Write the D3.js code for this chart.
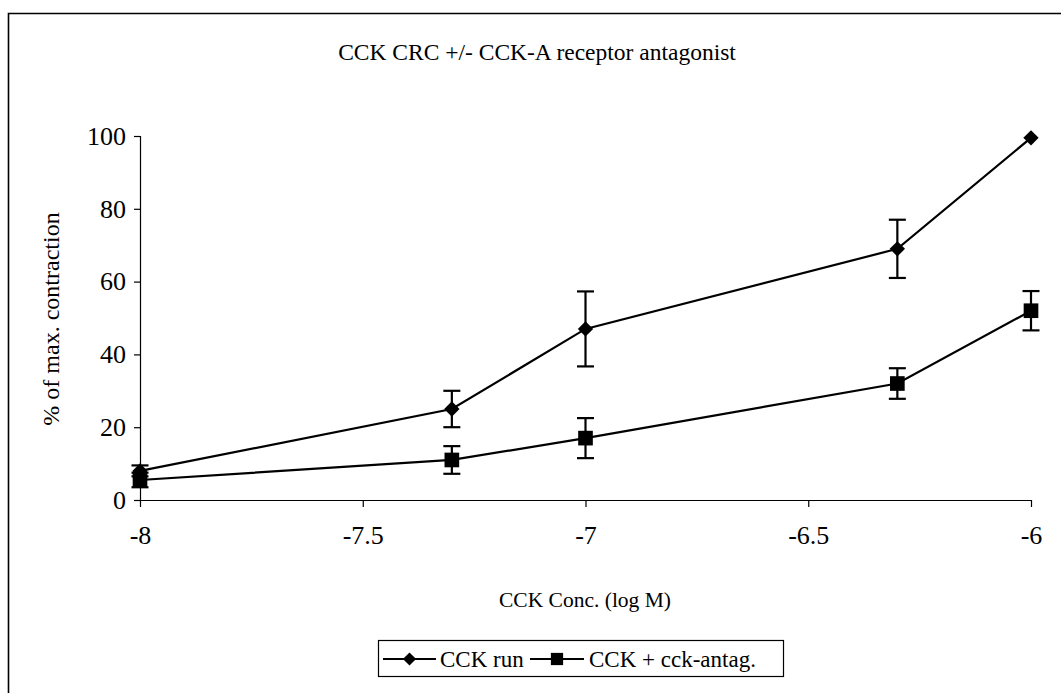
<!DOCTYPE html>
<html>
<head>
<meta charset="utf-8">
<script src="https://cdn.jsdelivr.net/npm/d3@7"></script>
<style>
  html, body { margin: 0; padding: 0; background: #fff; }
  svg { display: block; }
</style>
</head>
<body>
<svg id="chart" width="1061" height="693"></svg>
<script>
// log concentration of CCK (M)
const concentrations = [-8, -7.3, -7, -6.3, -6];
// % of maximal contraction, mean and SEM
const cckRun = [8, 25, 47, 69, 99.5];
const cckRunErr = [1.5, 5, 10.3, 8, 0];
const cckAntag = [5.5, 11, 17, 32, 52];
const cckAntagErr = [2, 3.8, 5.5, 4.2, 5.4];
const seriesNames = ["CCK run", "CCK + cck-antag."];
const xTicks = [-8, -7.5, -7, -6.5, -6];
const yTicks = [0, 20, 40, 60, 80, 100];

const SERIF = "'Liberation Serif', 'Times New Roman', serif";
const svg = d3.select("#chart");
const W = 1061, H = 693;
const plot = { left: 140, right: 1031, top: 136, bottom: 500 };

// outer chart frame (only top and left edges fall inside the page)
svg.append("path")
  .attr("d", `M8.5,${H} V13.5 H${W}`)
  .attr("fill", "none").attr("stroke", "#000").attr("stroke-width", 1.6);

const x = d3.scaleLinear().domain([-8, -6]).range([plot.left, plot.right]);
const y = d3.scaleLinear().domain([0, 100]).range([plot.bottom, plot.top]);

// title
svg.append("text")
  .attr("x", 537).attr("y", 60)
  .attr("text-anchor", "middle")
  .attr("font-family", SERIF)
  .attr("font-size", 23.5)
  .text("CCK CRC +/- CCK-A receptor antagonist");

// y axis
const yAxis = svg.append("g")
  .attr("transform", `translate(${plot.left},0)`)
  .call(d3.axisLeft(y).tickValues(yTicks).tickSize(6).tickPadding(8).tickFormat(d => String(d)));
yAxis.attr("font-family", SERIF).attr("font-size", 26);
yAxis.selectAll("line, path").attr("stroke", "#000").attr("stroke-width", 1.2);

// x axis; labels use a plain hyphen for the minus sign
const xAxis = svg.append("g")
  .attr("transform", `translate(0,${plot.bottom})`)
  .call(d3.axisBottom(x).tickValues(xTicks).tickSize(7).tickPadding(19).tickFormat(d => String(d)));
xAxis.attr("font-family", SERIF).attr("font-size", 26);
xAxis.selectAll("line, path").attr("stroke", "#000").attr("stroke-width", 1.2);
xAxis.select(".domain").attr("d", `M${plot.left},0.5H${plot.right}`);
yAxis.select(".domain").attr("d", `M0.5,${plot.bottom}V${plot.top}`);

// axis titles
svg.append("text")
  .attr("transform", `translate(59,${(plot.top + plot.bottom) / 2 + 1}) rotate(-90)`)
  .attr("text-anchor", "middle")
  .attr("font-family", SERIF)
  .attr("font-size", 24)
  .text("% of max. contraction");

svg.append("text")
  .attr("x", 585).attr("y", 607)
  .attr("text-anchor", "middle")
  .attr("font-family", SERIF)
  .attr("font-size", 21.5)
  .text("CCK Conc. (log M)");

const series = [
  { name: seriesNames[0], values: cckRun, err: cckRunErr, marker: "diamond" },
  { name: seriesNames[1], values: cckAntag, err: cckAntagErr, marker: "square" }
];

const line = d3.line().x(d => x(d.c)).y(d => y(d.v));
const markerPath = {
  diamond: d3.symbol().type(d3.symbolDiamond2).size(150),
  square: d3.symbol().type(d3.symbolSquare).size(215)
};

series.forEach(s => {
  const pts = concentrations.map((c, i) => ({ c, v: s.values[i], e: s.err[i] }));
  const g = svg.append("g");

  // error bars
  const eb = g.selectAll("g.err").data(pts.filter(p => p.e > 0)).join("g").attr("class", "err");
  eb.append("line")
    .attr("x1", d => x(d.c)).attr("x2", d => x(d.c))
    .attr("y1", d => y(d.v + d.e)).attr("y2", d => y(d.v - d.e));
  eb.append("line")
    .attr("x1", d => x(d.c) - 8.5).attr("x2", d => x(d.c) + 8.5)
    .attr("y1", d => y(d.v + d.e)).attr("y2", d => y(d.v + d.e));
  eb.append("line")
    .attr("x1", d => x(d.c) - 8.5).attr("x2", d => x(d.c) + 8.5)
    .attr("y1", d => y(d.v - d.e)).attr("y2", d => y(d.v - d.e));
  eb.selectAll("line").attr("stroke", "#000").attr("stroke-width", 2.2);

  g.append("path").datum(pts)
    .attr("d", line)
    .attr("fill", "none").attr("stroke", "#000").attr("stroke-width", 2.2);

  g.selectAll("path.mk").data(pts).join("path").attr("class", "mk")
    .attr("transform", d => `translate(${x(d.c)},${y(d.v)})`)
    .attr("d", markerPath[s.marker]())
    .attr("fill", "#000");
});

// legend
const lg = svg.append("g");
lg.append("rect")
  .attr("x", 378.5).attr("y", 640.5).attr("width", 405).attr("height", 36)
  .attr("fill", "none").attr("stroke", "#000").attr("stroke-width", 1.2);
const legendItems = [
  { name: seriesNames[0], marker: "diamond", x0: 383, x1: 436, tx: 440 },
  { name: seriesNames[1], marker: "square", x0: 530, x1: 584, tx: 589 }
];
legendItems.forEach(it => {
  lg.append("line")
    .attr("x1", it.x0).attr("x2", it.x1).attr("y1", 659).attr("y2", 659)
    .attr("stroke", "#000").attr("stroke-width", 2);
  lg.append("path")
    .attr("transform", `translate(${(it.x0 + it.x1) / 2},659)`)
    .attr("d", (it.marker === "diamond"
      ? d3.symbol().type(d3.symbolDiamond2).size(110)
      : d3.symbol().type(d3.symbolSquare).size(150))())
    .attr("fill", "#000");
  lg.append("text")
    .attr("x", it.tx).attr("y", 667)
    .attr("font-family", SERIF)
    .attr("font-size", 23)
    .text(it.name);
});
</script>
</body>
</html>
